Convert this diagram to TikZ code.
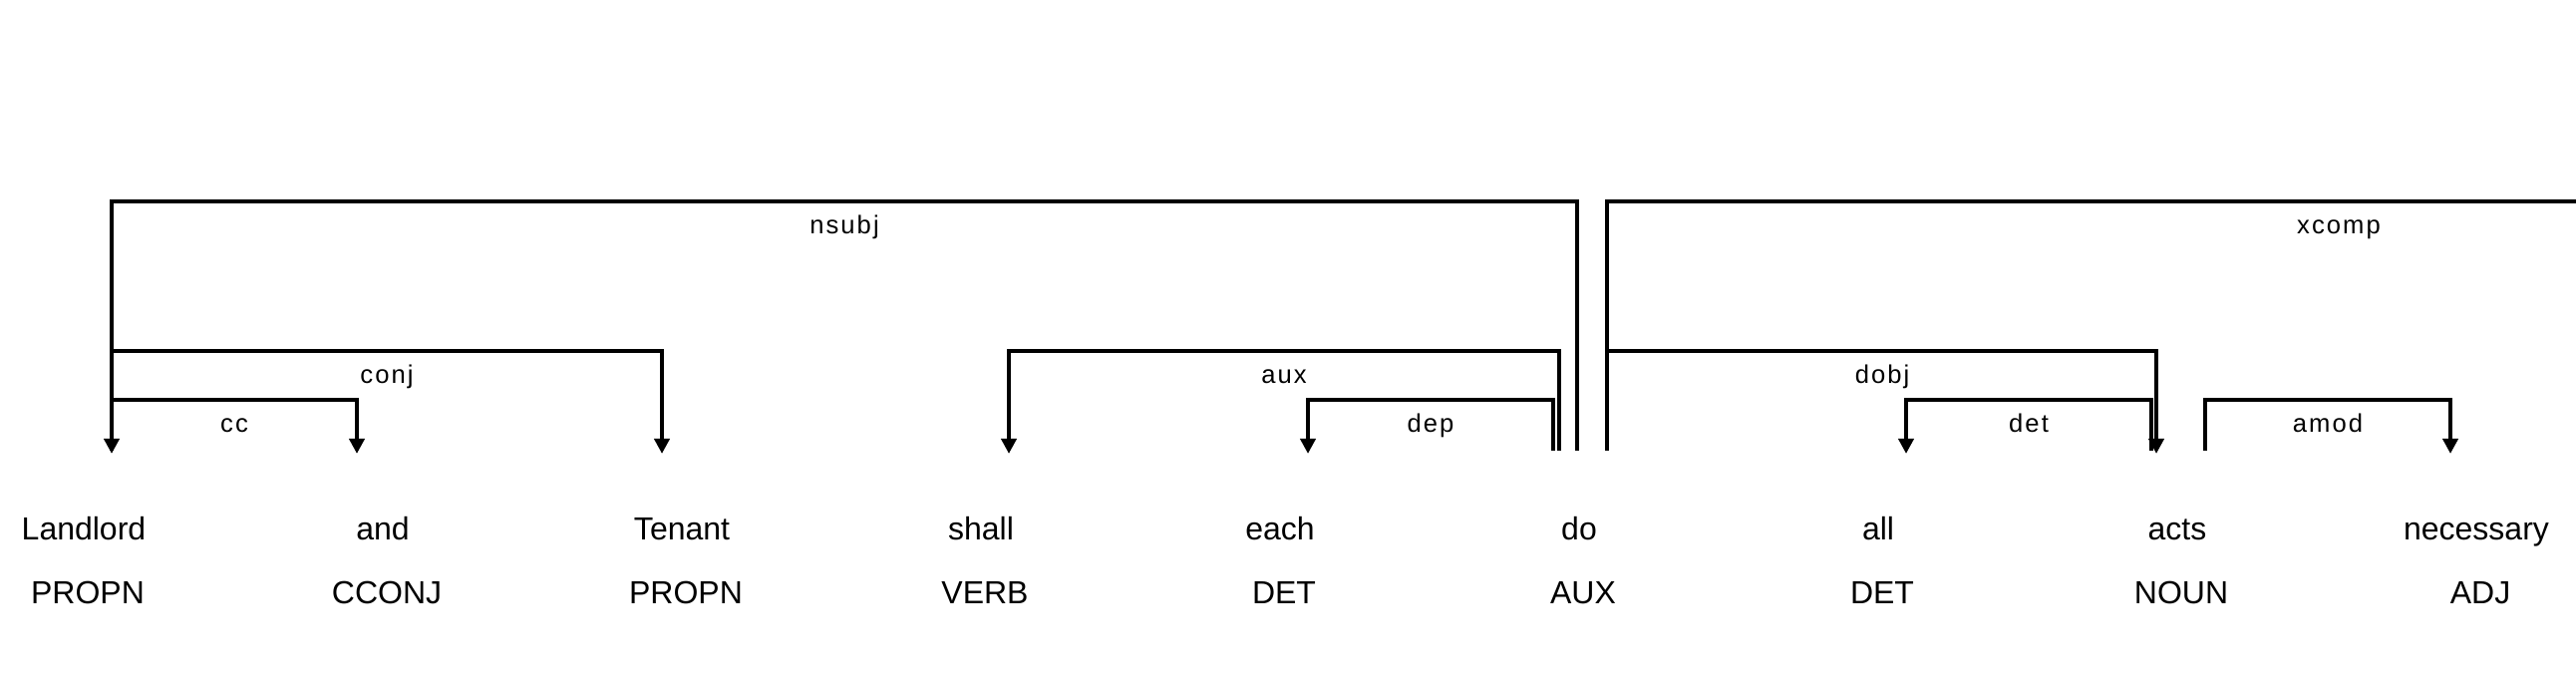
\documentclass[tikz,border=0pt]{standalone}
\usepackage{fontspec}
\setmainfont{Liberation Sans}
\usetikzlibrary{arrows.meta}
\begin{document}
\begin{tikzpicture}[x=0.5pt,y=-0.5pt,
  arcline/.style={line width=2pt,draw=black},
  arrowend/.style={-{Triangle[length=7.5pt,width=7.5pt]}},
  word/.style={anchor=base,inner sep=0pt,font=\fontsize{16}{19}\selectfont},
  tagw/.style={anchor=base,inner sep=0pt,font=\fontsize{16}{19}\selectfont},
  lab/.style={anchor=base,inner sep=0pt,font=\fontsize{12.8}{15}\selectfont\addfontfeature{LetterSpace=8}}]
\useasboundingbox (0,0) rectangle (2584,688);
% words
\node[word] (w1) at (84,542) {Landlord};
\node[word] (w2) at (384,542) {and};
\node[word] (w3) at (684,542) {Tenant};
\node[word] (w4) at (984,542) {shall};
\node[word] (w5) at (1284,542) {each};
\node[word] (w6) at (1584,542) {do};
\node[word] (w7) at (1884,542) {all};
\node[word] (w8) at (2184,542) {acts};
\node[word] (w9) at (2484,542) {necessary};
% tags
\node[tagw] (t1) at (88,606) {PROPN};
\node[tagw] (t2) at (388,606) {CCONJ};
\node[tagw] (t3) at (688,606) {PROPN};
\node[tagw] (t4) at (988,606) {VERB};
\node[tagw] (t5) at (1288,606) {DET};
\node[tagw] (t6) at (1588,606) {AUX};
\node[tagw] (t7) at (1888,606) {DET};
\node[tagw] (t8) at (2188,606) {NOUN};
\node[tagw] (t9) at (2488,606) {ADJ};
% arc feet
\coordinate (landA) at (112,455);
\coordinate (landF) at (112,452);
\coordinate (andA) at (358,455);
\coordinate (tenA) at (664,455);
\coordinate (shallA) at (1012,455);
\coordinate (eachA) at (1312,455);
\coordinate (doDep) at (1558,452);
\coordinate (doAux) at (1564,452);
\coordinate (doNsubj) at (1582,452);
\coordinate (doX) at (1612,452);
\coordinate (allA) at (1912,455);
\coordinate (actsDet) at (2158,452);
\coordinate (actsA) at (2163,455);
\coordinate (actsAmod) at (2212,452);
\coordinate (necA) at (2458,455);
\coordinate (xcompR) at (2584,202);
% arcs
\draw[arcline,arrowend] (doNsubj) -- (doNsubj |- 0,202) -- (landA |- 0,202) -- (landA);
\draw[arcline,arrowend] (landF) -- (landF |- 0,352) -- (tenA |- 0,352) -- (tenA);
\draw[arcline,arrowend] (landF) -- (landF |- 0,401) -- (andA |- 0,401) -- (andA);
\draw[arcline,arrowend] (doAux) -- (doAux |- 0,352) -- (shallA |- 0,352) -- (shallA);
\draw[arcline,arrowend] (doDep) -- (doDep |- 0,401) -- (eachA |- 0,401) -- (eachA);
\draw[arcline] (doX) -- (doX |- 0,202) -- (xcompR);
\draw[arcline,arrowend] (doX) -- (doX |- 0,352) -- (actsA |- 0,352) -- (actsA);
\draw[arcline,arrowend] (actsDet) -- (actsDet |- 0,401) -- (allA |- 0,401) -- (allA);
\draw[arcline,arrowend] (actsAmod) -- (actsAmod |- 0,401) -- (necA |- 0,401) -- (necA);
% labels
\node[lab] (lnsubj) at (847,235) {nsubj};
\node[lab] (lxcomp) at (2346,235) {xcomp};
\node[lab] (lconj) at (388,385) {conj};
\node[lab] (lcc) at (235,434) {cc};
\node[lab] (laux) at (1288,385) {aux};
\node[lab] (ldep) at (1435,434) {dep};
\node[lab] (ldobj) at (1888,385) {dobj};
\node[lab] (ldet) at (2035,434) {det};
\node[lab] (lamod) at (2335,434) {amod};
\end{tikzpicture}
\end{document}
